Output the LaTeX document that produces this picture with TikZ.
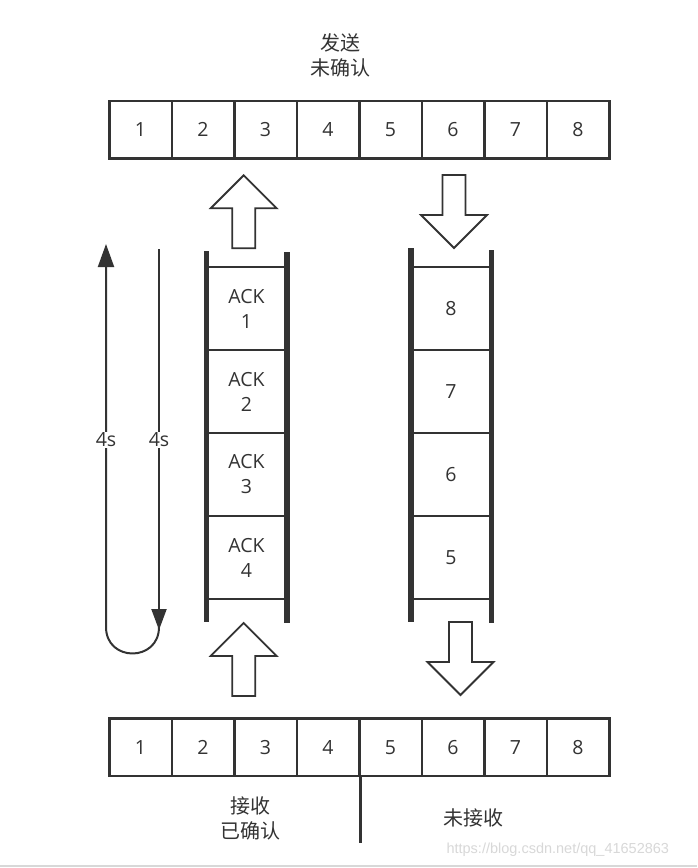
\documentclass[tikz,border=0pt]{standalone}
\usepackage{fontspec}
\setmainfont{Open Sans}
\newfontfamily\cjk{Noto Sans CJK SC}
\newfontfamily\markfont{Liberation Sans}
\usetikzlibrary{arrows.meta}
\definecolor{inkgray}{RGB}{51,51,51}
\definecolor{markgray}{RGB}{216,216,216}

\begin{document}
\begin{tikzpicture}[x=1pt, y=-1pt,
    every node/.style={font=\fontsize{19.5}{25}\selectfont, text=inkgray},
    zh/.style={font=\cjk\fontsize{20}{25}\selectfont, align=center},
    cell/.style={draw=inkgray, line width=2.5pt, minimum width=62.5pt, minimum height=57.5pt, inner sep=0pt},
    slot/.style={draw=inkgray, line width=2pt, minimum width=78.5pt, minimum height=83pt, inner sep=0pt, align=center},
    rail/.style={draw=inkgray, line width=5.5pt},
    timer/.style={draw=inkgray, line width=2pt},
    hollow/.pic={
      \draw[inkgray, line width=1.8pt, fill=white, line join=miter]
        (-11.5,0) -- (-11.5,-40) -- (-33,-40) -- (0,-73) -- (33,-40) -- (11.5,-40) -- (11.5,0) -- cycle;
    }]
  \useasboundingbox[fill=white] (0,0) rectangle (697,868);

  % sender window
  \node[zh] (sendlbl) at (340,55.5) {发送\\未确认};
  \foreach \i in {1,...,8}
    \node[cell] (s\i) at ({109.3+62.5*(\i-0.5)},129.75) {\i};

  % receiver window
  \foreach \i in {1,...,8}
    \node[cell] (r\i) at ({109.3+62.5*(\i-0.5)},747.3) {\i};
  \draw[inkgray, line width=2.5pt] (r4.south east) -- ++(0,66) coordinate (cut);
  \node[zh] (recvlbl) at (250.5,818) {接收\\已确认};
  \node[zh] (waitlbl) at (473,818) {未接收};

  % ack pipe
  \foreach \i in {1,...,4}
    \node[slot] (ack\i) at (246.5,{308.5+83*(\i-1)}) {ACK\\\i};
  \draw[rail] ([yshift=15pt]ack1.north west) -- ([yshift=-22pt]ack4.south west);
  \draw[rail] ([yshift=14pt]ack1.north east) -- ([yshift=-23pt]ack4.south east);

  % data pipe
  \foreach \n [count=\i] in {8,7,6,5}
    \node[slot] (pk\n) at (451,{308.5+83*(\i-1)}) {\n};
  \draw[rail] ([yshift=18pt]pk8.north west) -- ([yshift=-22pt]pk5.south west);
  \draw[rail] ([yshift=16pt]pk8.north east) -- ([yshift=-23pt]pk5.south east);

  % block arrows
  \pic at (243.7,248.3) {hollow};
  \pic at (243.7,696) {hollow};
  \pic[rotate=180] at (454,175) {hollow};
  \pic[rotate=180] at (460.5,622) {hollow};

  % timeout loop
  \coordinate (dtop) at (159,249);
  \coordinate (dbot) at (159,630);
  \coordinate (ubot) at (106,627);
  \coordinate (utop) at (106,244);
  \draw[timer, -{Triangle[length=21pt,width=15pt]}] (dtop) -- (dbot);
  \draw[timer, -{Triangle[length=23pt,width=16pt]}] (159,627) .. controls (159,662.3) and (106,662.3) .. (ubot) -- (utop);
  \node[fill=white, inner sep=1pt] (tleft) at (106,440) {4s};
  \node[fill=white, inner sep=1pt] (tright) at (159,440) {4s};

  \node[text=markgray, font=\markfont\fontsize{14.5}{16}\selectfont, anchor=west] (wm) at (443,850) {https://blog.csdn.net/qq\_41652863};
  \draw[markgray, line width=1.5pt] (0,866) -- (697,866);
\end{tikzpicture}
\end{document}
